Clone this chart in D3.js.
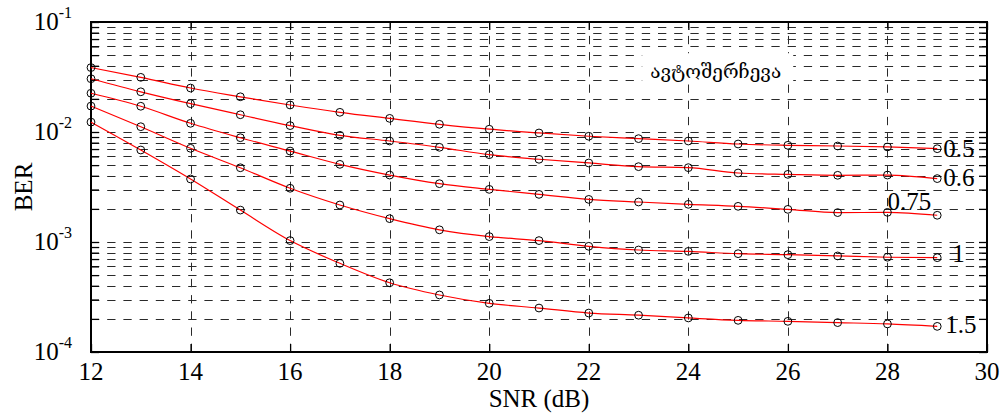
<!DOCTYPE html>
<html>
<head>
<meta charset="utf-8">
<script src="https://cdn.jsdelivr.net/npm/d3@7"></script>
<style>
  html, body { margin: 0; padding: 0; background: #fff; }
  svg { display: block; }
</style>
</head>
<body>
<svg id="chart" width="1007" height="419"></svg>
<script>
// SNR axis (dB)
const snr = [12, 13, 14, 15, 16, 17, 18, 19, 20, 21, 22, 23, 24, 25, 26, 27, 28, 29];

// BER curves, one per roll-off factor
const ber05  = [0.0385, 0.0314, 0.0251, 0.0209, 0.0176, 0.0151, 0.0133, 0.01175, 0.0106, 0.0098, 0.00915, 0.0087, 0.00828, 0.00778, 0.00757, 0.00746, 0.00731, 0.00705];
const ber06  = [0.0305, 0.0232, 0.0181, 0.01435, 0.01143, 0.00933, 0.00828, 0.00726, 0.00622, 0.00565, 0.00523, 0.00484, 0.00474, 0.00424, 0.00412, 0.00404, 0.00406, 0.00377];
const ber075 = [0.0225, 0.01714, 0.0120, 0.00887, 0.00671, 0.00508, 0.00406, 0.00339, 0.00301, 0.00271, 0.00244, 0.00231, 0.00220, 0.00211, 0.00198, 0.00185, 0.00186, 0.00175];
const ber1   = [0.0172, 0.01117, 0.00711, 0.00473, 0.00308, 0.00217, 0.00163, 0.00129, 0.00112, 0.00103, 0.000914, 0.000846, 0.000822, 0.000783, 0.000767, 0.000747, 0.000727, 0.00072];
const ber15  = [0.0123, 0.00686, 0.00374, 0.00195, 0.00103, 0.00064, 0.000426, 0.00033, 0.000277, 0.000251, 0.000226, 0.000216, 0.000204, 0.000194, 0.00019, 0.000185, 0.00018, 0.000171];

const seriesNames = ["0.5", "0.6", "0.75", "1", "1.5"];
const seriesValues = [ber05, ber06, ber075, ber1, ber15];

const xTicks = [12, 14, 16, 18, 20, 22, 24, 26, 28, 30];
const yDecades = [-4, -3, -2, -1];
const titleText = "ავტოშერჩევა";

const serif = "'Liberation Serif', 'Times New Roman', Tinos, 'DejaVu Serif', serif";

const svg = d3.select("#chart").attr("font-family", serif);
const M = { left: 91, right: 987, top: 22, bottom: 352 };

const x = d3.scaleLinear().domain([12, 30]).range([M.left, M.right]);
const y = d3.scaleLog().domain([1e-4, 1e-1]).range([M.bottom, M.top]);

// all log ticks: 1..9 x 10^k up to 10^-1
const yAll = [];
for (let k = -4; k <= -1; k++) {
  for (let m = 1; m <= 9; m++) {
    const v = m * Math.pow(10, k);
    if (v <= 1e-1 * 1.0001) yAll.push(v);
  }
}

const gridColor = "#2a2a2a";
const dash = "8.3,7.9";

// horizontal grid
svg.append("g").selectAll("line").data(yAll.filter(v => v > 1e-4 * 1.001 && v < 1e-1 * 0.999)).join("line")
  .attr("x1", M.left).attr("x2", M.right)
  .attr("y1", d => Math.round(y(d)) + 0.5).attr("y2", d => Math.round(y(d)) + 0.5)
  .attr("stroke", gridColor).attr("stroke-width", 1).attr("stroke-dasharray", dash);

// vertical grid
svg.append("g").selectAll("line").data(xTicks.filter(v => v > 12 && v < 30)).join("line")
  .attr("x1", d => Math.round(x(d)) + 0.5).attr("x2", d => Math.round(x(d)) + 0.5)
  .attr("y1", M.bottom).attr("y2", M.top)
  .attr("stroke", gridColor).attr("stroke-width", 1).attr("stroke-dasharray", dash);

// axes with inward ticks
const tickLen = 8;
const axisBottom = d3.axisBottom(x).tickValues(xTicks).tickSize(-tickLen).tickFormat("");
const axisTop = d3.axisTop(x).tickValues(xTicks).tickSize(-tickLen).tickFormat("");
const axisLeft = d3.axisLeft(y).tickValues(yAll).tickSize(-tickLen).tickFormat("");
const axisRight = d3.axisRight(y).tickValues(yAll).tickSize(-tickLen).tickFormat("");

function styleAxis(g) {
  g.select(".domain").remove();
  g.selectAll(".tick line").attr("stroke", "#000").attr("stroke-width", 1.3);
}
svg.append("g").attr("transform", `translate(0,${M.bottom})`).call(axisBottom).call(styleAxis);
svg.append("g").attr("transform", `translate(0,${M.top})`).call(axisTop).call(styleAxis);
svg.append("g").attr("transform", `translate(${M.left},0)`).call(axisLeft).call(styleAxis);
svg.append("g").attr("transform", `translate(${M.right},0)`).call(axisRight).call(styleAxis);

// frame
svg.append("rect")
  .attr("x", M.left).attr("y", M.top)
  .attr("width", M.right - M.left).attr("height", M.bottom - M.top)
  .attr("fill", "none").attr("stroke", "#000").attr("stroke-width", 2);

// x tick labels
svg.append("g").selectAll("text").data(xTicks).join("text")
  .attr("x", d => x(d)).attr("y", M.bottom + 28)
  .attr("text-anchor", "middle").attr("font-size", 25)
  .text(d => d);

// y tick labels 10^k
const yl = svg.append("g").selectAll("text").data(yDecades).join("text")
  .attr("x", M.left - 4 - 15).attr("y", d => y(Math.pow(10, d)) + 8)
  .attr("text-anchor", "end").attr("font-size", 25);
yl.append("tspan").text("10");
yl.append("tspan").attr("font-size", 16).attr("dy", -12).text(d => d);

// axis titles
svg.append("text").attr("x", (M.left + M.right) / 2).attr("y", 407)
  .attr("text-anchor", "middle").attr("font-size", 25).text("SNR (dB)");
svg.append("text").attr("transform", `translate(32,${(M.top + M.bottom) / 2}) rotate(-90)`)
  .attr("text-anchor", "middle").attr("font-size", 25).text("BER");

// annotation with white background
const ann = svg.append("g");
const annText = ann.append("text")
  .attr("x", x(24.55)).attr("y", y(0.031))
  .attr("text-anchor", "middle").attr("font-size", 19)
  .attr("font-family", "'DejaVu Serif', 'DejaVu Sans', serif")
  .text(titleText);
const bb = annText.node().getBBox();
ann.insert("rect", "text")
  .attr("x", bb.x - 8).attr("y", y(0.052))
  .attr("width", bb.width + 20).attr("height", y(0.029) - y(0.052))
  .attr("fill", "#fff");

// curves
const line = d3.line().x(d => x(d[0])).y(d => y(d[1])).curve(d3.curveMonotoneX);
seriesValues.forEach(vals => {
  const pts = snr.map((s, i) => [s, vals[i]]);
  svg.append("path").datum(pts).attr("d", line)
    .attr("fill", "none").attr("stroke", "#ff0000").attr("stroke-width", 1.2);
  svg.append("g").selectAll("circle").data(pts).join("circle")
    .attr("cx", d => x(d[0])).attr("cy", d => y(d[1])).attr("r", 3.9)
    .attr("fill", "none").attr("stroke", "#000").attr("stroke-width", 1);
});

// series labels near curve ends
const lastIdx = snr.length - 1;
const labelPos = [
  { i: lastIdx, dx: 6, dy: 8 },
  { i: lastIdx, dx: 6, dy: 7 },
  { i: lastIdx - 1, dx: 0, dy: -2 },
  { i: lastIdx, dx: 15, dy: 4 },
  { i: lastIdx, dx: 8, dy: 7 }
];
svg.append("g").selectAll("text").data(seriesNames).join("text")
  .attr("x", (d, k) => x(snr[labelPos[k].i]) + labelPos[k].dx)
  .attr("y", (d, k) => y(seriesValues[k][labelPos[k].i]) + labelPos[k].dy)
  .attr("font-size", 25)
  .text(d => d);
</script>
</body>
</html>
